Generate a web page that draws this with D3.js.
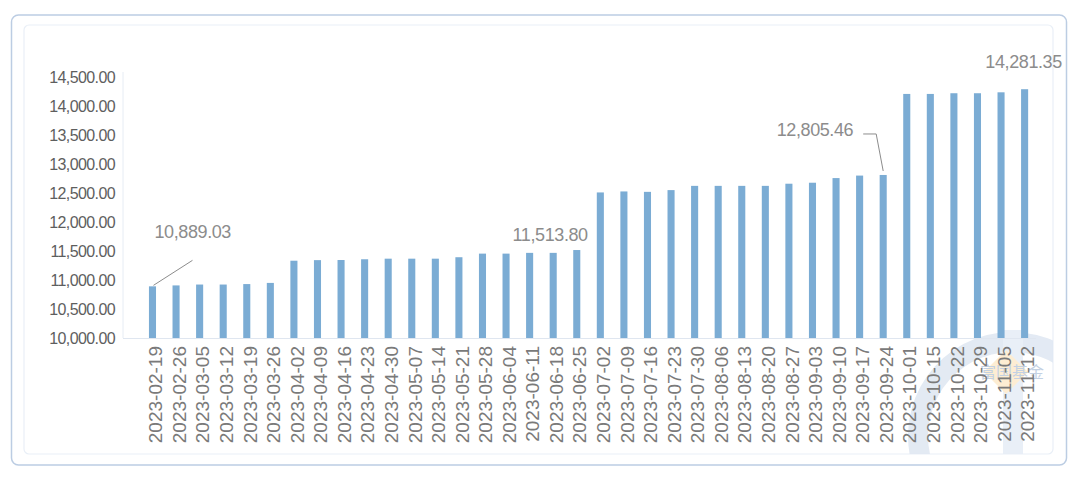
<!DOCTYPE html>
<html><head><meta charset="utf-8">
<script src="https://cdn.jsdelivr.net/npm/d3@7/dist/d3.min.js"></script>
<style>html,body{margin:0;padding:0;background:#fff;}svg{display:block;}</style>
</head><body>
<svg id="c" width="1080" height="481"></svg>
<script>
const categories = ["2023-02-19","2023-02-26","2023-03-05","2023-03-12","2023-03-19","2023-03-26","2023-04-02","2023-04-09","2023-04-16","2023-04-23","2023-04-30","2023-05-07","2023-05-14","2023-05-21","2023-05-28","2023-06-04","2023-06-11","2023-06-18","2023-06-25","2023-07-02","2023-07-09","2023-07-16","2023-07-23","2023-07-30","2023-08-06","2023-08-13","2023-08-20","2023-08-27","2023-09-03","2023-09-10","2023-09-17","2023-09-24","2023-10-01","2023-10-15","2023-10-22","2023-10-29","2023-11-05","2023-11-12"];
const values = [10889.03,10905,10920,10920,10928,10948,11330,11340,11342,11355,11365,11365,11365,11390,11452,11452,11465,11465,11513.80,12505,12522,12515,12545,12618,12618,12618,12618,12655,12672,12752,12795,12805.46,14200,14200,14212,14212,14228,14281.35];
const yTicks = [10000,10500,11000,11500,12000,12500,13000,13500,14000,14500];
const labelled = ["2023-02-19","2023-06-25","2023-09-24","2023-11-12"];

const svg = d3.select("#c");
// frames
svg.append("rect").attr("x",11.5).attr("y",15).attr("width",1055).attr("height",450).attr("rx",7)
  .attr("fill","#fff").attr("stroke","#bccde3").attr("stroke-width",1.5);
svg.append("rect").attr("x",24).attr("y",25).attr("width",1029).attr("height",429).attr("rx",5)
  .attr("fill","#fff").attr("stroke","#e9eff7").attr("stroke-width",1.2);

// watermark
const defs = svg.append("defs");
defs.append("clipPath").attr("id","clp").append("rect").attr("x",24).attr("y",25).attr("width",1029).attr("height",429).attr("rx",5);
const wg = svg.append("g").attr("clip-path","url(#clp)").attr("opacity",0.85);
wg.append("path").attr("d", d3.arc().innerRadius(84).outerRadius(104).startAngle(-2.5).endAngle(1.3)())
  .attr("transform","translate(1012,436)").attr("fill","#dfe7f2");
wg.append("rect").attr("x",1003).attr("y",330).attr("width",20).attr("height",130).attr("fill","#e6edf6");
wg.append("path").attr("d","M1006,350 L1028,372 L1006,394 L984,372 Z").attr("fill","#fdebcc");
wg.append("text").attr("x",1012).attr("y",378).attr("text-anchor","middle").attr("font-size",16)
  .attr("font-family","Noto Sans CJK SC").attr("fill","#b9c9de").text("富国基金");

const x = d3.scaleBand().domain(categories).range([140.7,1036.4]).paddingInner(0.70).paddingOuter(0.35);
const y = d3.scaleLinear().domain([10000,14500]).range([338,76.5]);

// axis lines
svg.append("line").attr("x1",123).attr("x2",123).attr("y1",72).attr("y2",338).attr("stroke","#e6ecf4").attr("stroke-width",1);

// bars
svg.append("g").selectAll("rect").data(values).join("rect")
  .attr("x",(d,i)=>x(categories[i]))
  .attr("width",x.bandwidth())
  .attr("y",d=>y(d))
  .attr("height",d=>y(10000)-y(d))
  .attr("fill","#7bacd4");

svg.append("line").attr("x1",123).attr("x2",1036).attr("y1",338.5).attr("y2",338.5).attr("stroke","#dfe6f0").attr("stroke-width",1.2);

// y axis
const ya = svg.append("g").attr("transform","translate(115,0)")
  .call(d3.axisLeft(y).tickValues(yTicks).tickSize(0).tickPadding(0).tickFormat(d3.format(",.2f")));
ya.select(".domain").remove();
ya.selectAll("text").attr("font-family","Liberation Sans, Arial, sans-serif").attr("font-size",16)
  .attr("fill","#5e5e5e").attr("letter-spacing","-0.6px").attr("dy","0.35em");

// x axis
const xa = svg.append("g").attr("transform","translate(0,346)")
  .call(d3.axisBottom(x).tickSize(0).tickPadding(0));
xa.select(".domain").remove();
xa.selectAll("text").attr("font-family","Liberation Sans, Arial, sans-serif").attr("font-size",19)
  .attr("fill","#7a7a7a").attr("text-anchor","end")
  .attr("x",0).attr("y",0).attr("dx",0).attr("dy","0.38em")
  .attr("transform","translate(2.5,0) rotate(-90)");

// data labels
const fmt = d3.format(",.2f");
const lab = svg.append("g").attr("font-family","Liberation Sans, Arial, sans-serif").attr("font-size",18).attr("fill","#8c8c8c");
const cx = c => x(c) + x.bandwidth()/2;
const vOf = c => values[categories.indexOf(c)];
{
  const c = labelled[0];
  lab.append("text").attr("x",cx(c)+2).attr("y",y(vOf(c))-48).attr("letter-spacing","-0.4px").text(fmt(vOf(c)));
  svg.append("line").attr("x1",cx(c)+1).attr("y1",y(vOf(c))-1).attr("x2",cx(c)+40).attr("y2",y(vOf(c))-26)
    .attr("stroke","#8c8c8c").attr("stroke-width",1);
}
{
  const c = labelled[1];
  lab.append("text").attr("x",cx(c)+11).attr("y",y(vOf(c))-9).attr("text-anchor","end").attr("letter-spacing","-0.4px").text(fmt(vOf(c)));
}
{
  const c = labelled[2];
  lab.append("text").attr("x",cx(c)-30).attr("y",y(vOf(c))-39).attr("text-anchor","end").attr("letter-spacing","-0.4px").text(fmt(vOf(c)));
  const px = cx(c), py = y(vOf(c));
  svg.append("polyline").attr("points",`${px-20},${py-41} ${px-7},${py-41} ${px},${py-4}`)
    .attr("fill","none").attr("stroke","#8c8c8c").attr("stroke-width",1);
}
{
  const c = labelled[3];
  lab.append("text").attr("x",cx(c)-1).attr("y",y(vOf(c))-21).attr("text-anchor","middle").attr("letter-spacing","-0.4px").text(fmt(vOf(c)));
}
</script>
</body></html>
